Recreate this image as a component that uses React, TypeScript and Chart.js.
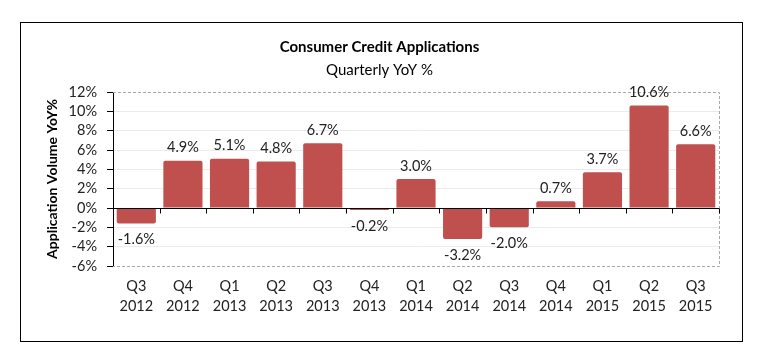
import React, { useEffect, useRef } from "react";
import { Chart, registerables } from "chart.js";

Chart.register(...registerables);

const QUARTERS = ["Q3", "Q4", "Q1", "Q2", "Q3", "Q4", "Q1", "Q2", "Q3", "Q4", "Q1", "Q2", "Q3"];
const YEARS = ["2012", "2012", "2013", "2013", "2013", "2013", "2014", "2014", "2014", "2014", "2015", "2015", "2015"];
const YOY = [-1.6, 4.9, 5.1, 4.8, 6.7, -0.2, 3.0, -3.2, -2.0, 0.7, 3.7, 10.6, 6.6];
const Y_MIN = -6;
const Y_MAX = 12;
const Y_STEP = 2;
const TITLE = "Consumer Credit Applications";
const SUBTITLE = "Quarterly YoY %";
const Y_TITLE = "Application Volume YoY%";

const FONT = "Lato, 'Open Sans', sans-serif";

const excelPlugin = {
  id: "excelDecor",
  beforeDatasetsDraw(chart: any) {
    const { ctx, chartArea: a, scales } = chart;
    const y = scales.y;
    ctx.save();
    ctx.strokeStyle = "#a8a8a8";
    ctx.lineWidth = 1;
    ctx.setLineDash([3, 2]);
    const t = Math.round(y.getPixelForValue(Y_MAX)) + 0.5;
    const b = Math.round(y.getPixelForValue(Y_MIN)) + 0.5;
    const r = Math.round(a.right) + 0.5;
    ctx.beginPath();
    ctx.moveTo(a.left, t);
    ctx.lineTo(r, t);
    ctx.lineTo(r, b);
    ctx.lineTo(a.left, b);
    ctx.stroke();
    ctx.restore();
  },
  afterDatasetsDraw(chart: any) {
    const { ctx, chartArea: a, scales } = chart;
    const x = scales.x;
    const y = scales.y;
    ctx.save();
    const z = Math.round(y.getPixelForValue(0)) + 0.5;
    ctx.strokeStyle = "#000";
    ctx.lineWidth = 1;
    ctx.beginPath();
    ctx.moveTo(a.left, z);
    ctx.lineTo(a.right, z);
    for (let i = 0; i <= YOY.length; i++) {
      const xp = Math.round(x.getPixelForValue(i - 0.5)) + 0.5;
      ctx.moveTo(xp, z);
      ctx.lineTo(xp, z + 5);
    }
    ctx.stroke();
    const meta = chart.getDatasetMeta(0);
    ctx.fillStyle = "#222";
    ctx.font = `14.5px ${FONT}`;
    ctx.textAlign = "center";
    ctx.textBaseline = "middle";
    meta.data.forEach((bar: any, i: number) => {
      const v = YOY[i];
      const label = v.toFixed(1) + "%";
      const yy = v >= 0 ? bar.y - 13 : bar.y + 16;
      ctx.fillText(label, bar.x, yy);
    });
    ctx.restore();
  },
};

export default function App() {
  const ref = useRef<HTMLCanvasElement | null>(null);
  useEffect(() => {
    if (!ref.current) return;
    const chart = new Chart(ref.current, {
      type: "bar",
      data: {
        labels: QUARTERS.map((q, i) => [q, YEARS[i]]),
        datasets: [
          {
            data: YOY,
            backgroundColor: "#C0504D",
            borderRadius: 2,
            barPercentage: 0.84,
            categoryPercentage: 1,
          },
        ],
      },
      options: {
        animation: false,
        responsive: false,
        maintainAspectRatio: false,
        layout: { padding: { left: 40, right: 44, top: 30, bottom: 20 } },
        plugins: {
          legend: { display: false },
          tooltip: { enabled: false },
          title: {
            display: true,
            text: TITLE,
            color: "#000",
            font: { family: FONT, size: 15, weight: "bold", lineHeight: 1.2 },
            padding: { top: 8, bottom: 3 },
          },
          subtitle: {
            display: true,
            text: SUBTITLE,
            color: "#000",
            font: { family: FONT, size: 15, weight: "normal", lineHeight: 1.2 },
            padding: { top: 2, bottom: 13 },
          },
        },
        scales: {
          x: {
            grid: { display: false, drawTicks: false },
            border: { display: false },
            ticks: {
              color: "#222",
              font: { family: FONT, size: 14.5, lineHeight: 1.35 },
              padding: 11,
              maxRotation: 0,
              autoSkip: false,
            },
            afterFit: (s: any) => {
              s.height = 70;
            },
          },
          y: {
            min: Y_MIN,
            max: Y_MAX,
            ticks: {
              stepSize: Y_STEP,
              autoSkip: false,
              color: "#222",
              font: { family: FONT, size: 14.5 },
              padding: 10,
              callback: (v: any) => v + "%",
            },
            grid: {
              color: (c: any) =>
                c.tick && (c.tick.value === Y_MAX || c.tick.value === Y_MIN || c.tick.value === 0)
                  ? "rgba(0,0,0,0)"
                  : "#ebebeb",
              tickColor: "#000",
              tickLength: 6,
              drawTicks: true,
            },
            border: { display: true, color: "#000", width: 1 },
            title: {
              display: true,
              text: Y_TITLE,
              color: "#000",
              font: { family: FONT, size: 14, weight: "bold", lineHeight: 1.2 },
              padding: { top: 4, bottom: 4 },
            },
            afterFit: (s: any) => {
              s.width = 73;
            },
          },
        },
      },
      plugins: [excelPlugin],
    });
    return () => chart.destroy();
  }, []);

  return (
    <div style={{ position: "fixed", left: 0, top: 0, width: 763, height: 356, background: "#fff" }}>
      <div
        style={{
          position: "absolute",
          left: 20,
          top: 22,
          width: 721,
          height: 318,
          border: "1px solid #000",
        }}
      />
      <canvas ref={ref} width={763} height={356} style={{ position: "absolute", left: 0, top: 0 }} />
    </div>
  );
}
